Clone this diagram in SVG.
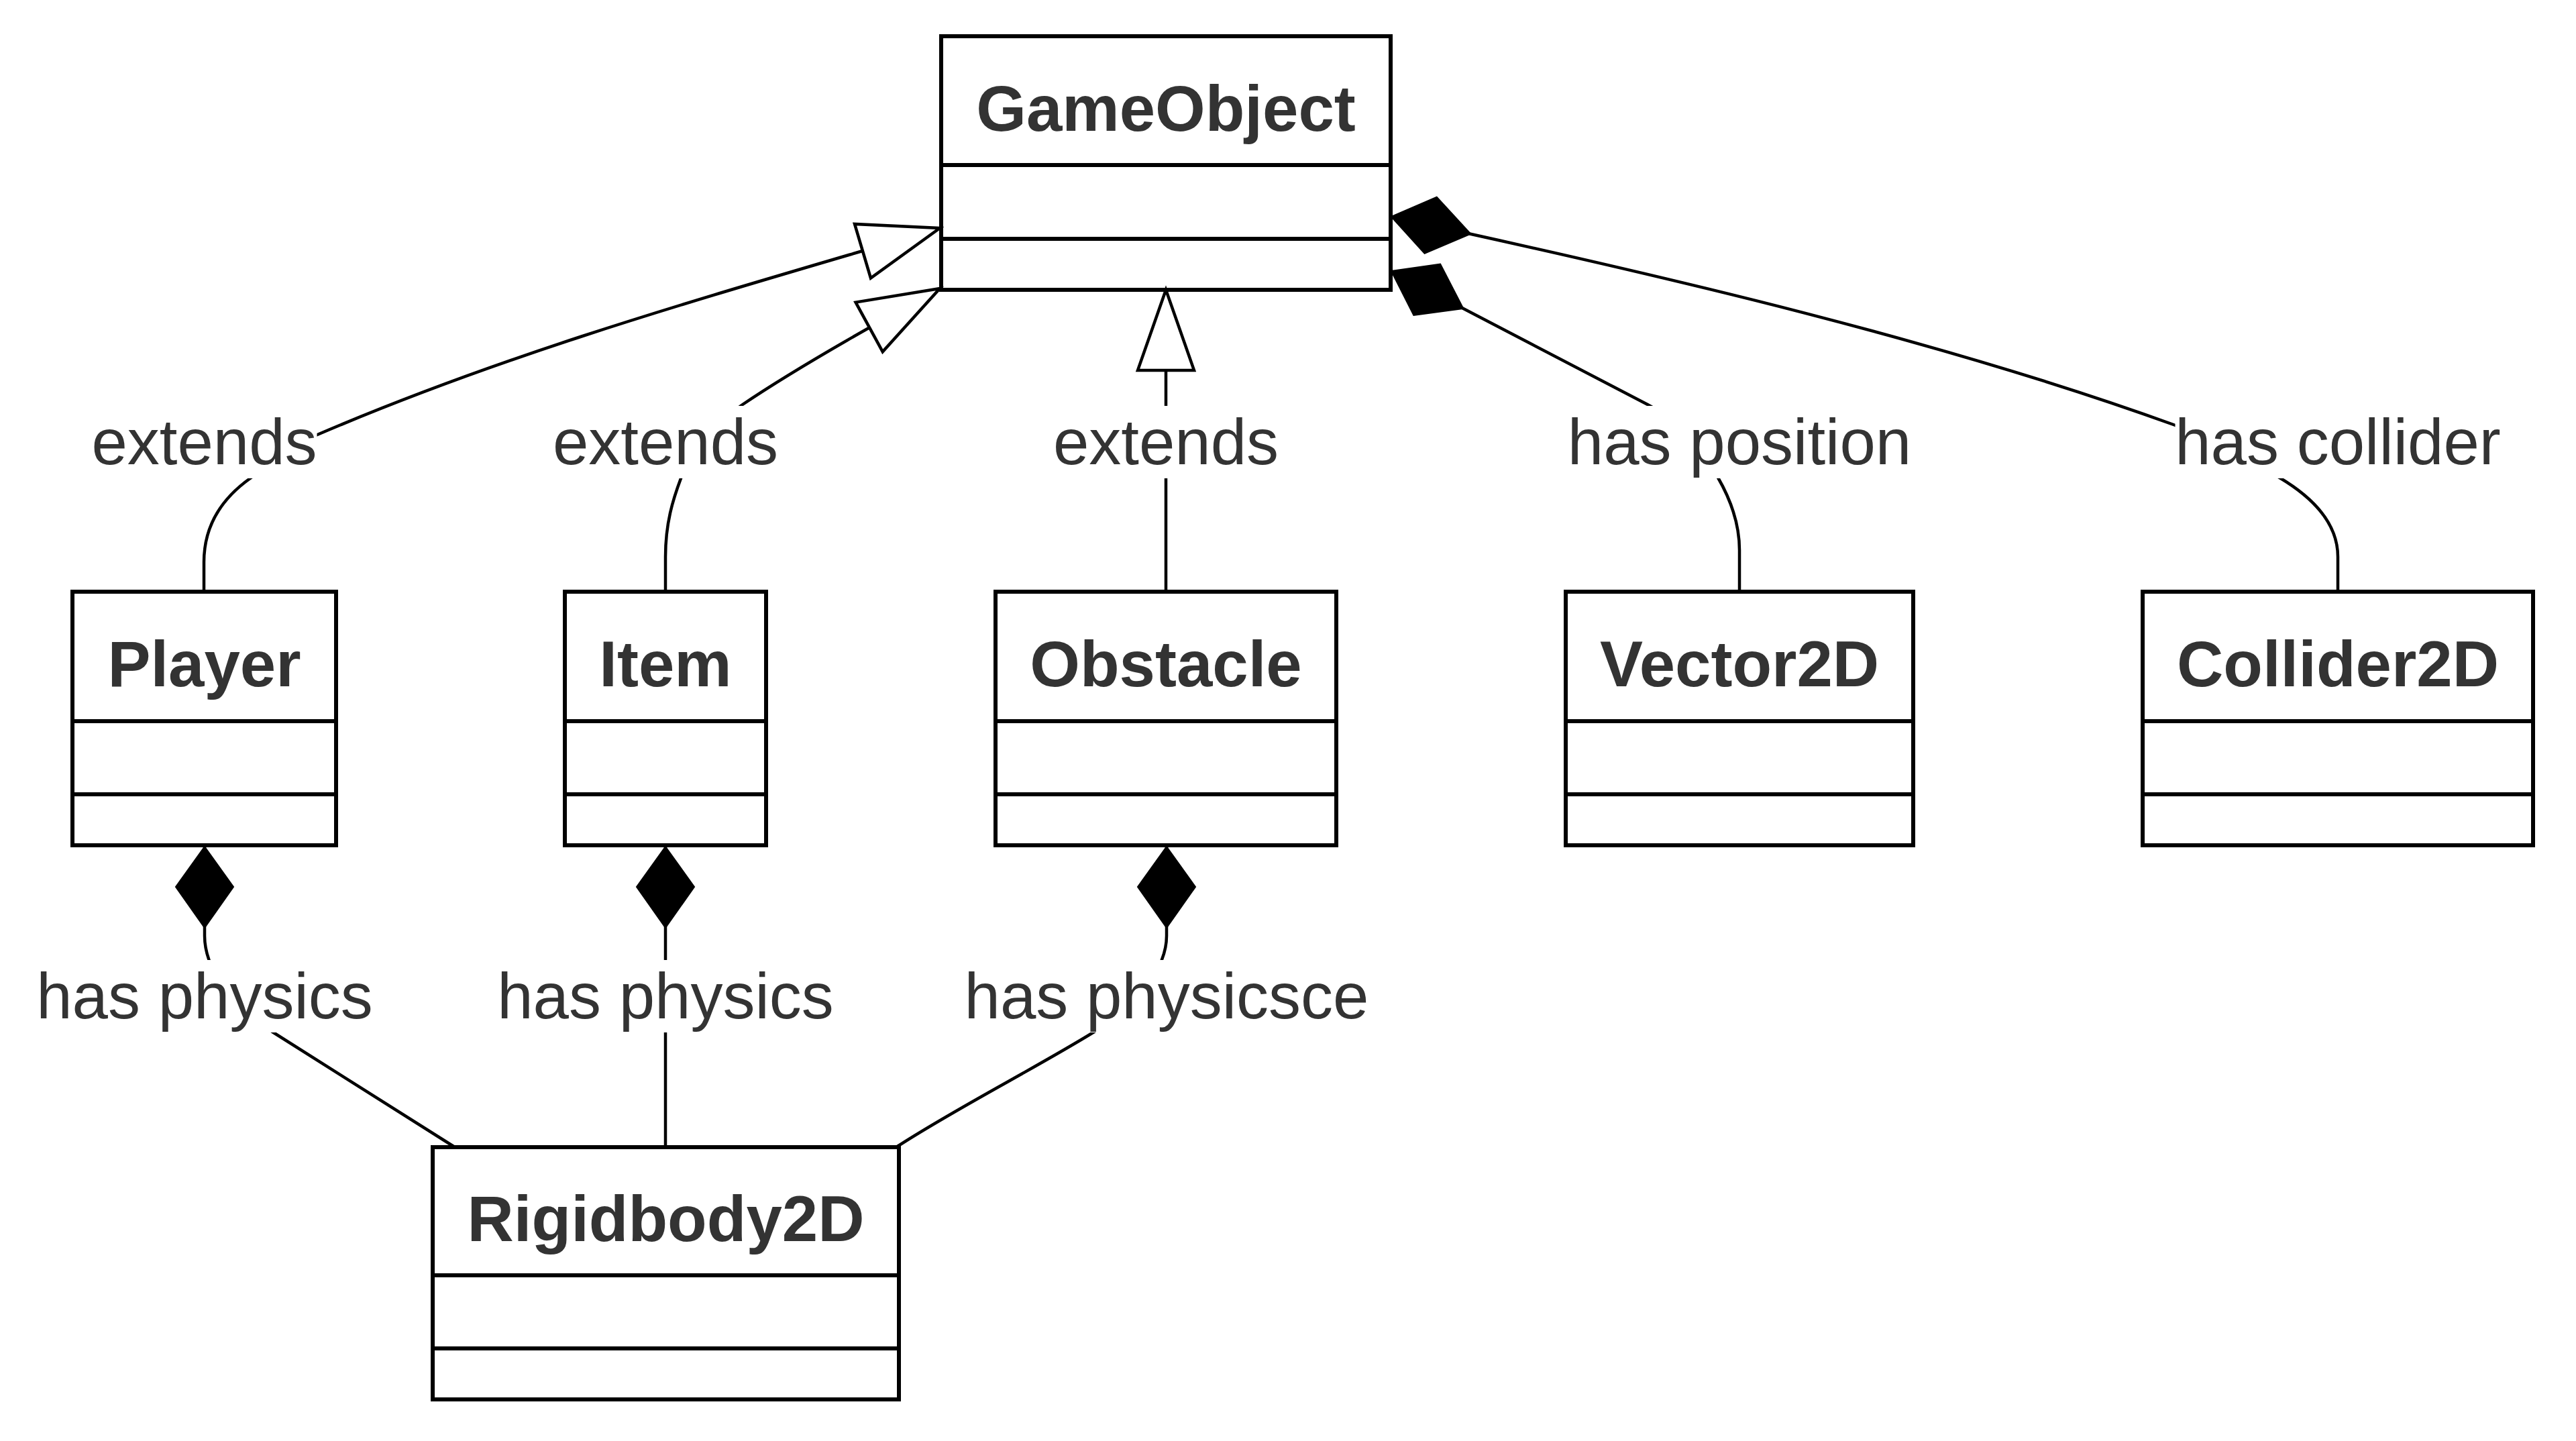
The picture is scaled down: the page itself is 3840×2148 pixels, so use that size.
<svg xmlns="http://www.w3.org/2000/svg" width="3840" height="2148" viewBox="0 0 3840 2148">
<style>
.box{fill:#fff;stroke:#000;stroke-width:6}
.sep{stroke:#000;stroke-width:6}
.title{font-family:"Liberation Sans",Arial,sans-serif;font-size:96px;font-weight:bold;fill:#333;text-anchor:middle}
.edge{fill:none;stroke:#000;stroke-width:4.5}
.lbl{font-family:"Liberation Sans",Arial,sans-serif;font-size:96px;fill:#333;text-anchor:middle}
.lblbg{fill:#fff}
</style>
<defs>
<marker id="ext" markerUnits="userSpaceOnUse" orient="auto" refX="0" refY="0" markerWidth="1" markerHeight="1" overflow="visible">
<path d="M0,0 L-120,-42 L-120,42 Z" fill="#fff" stroke="#000" stroke-width="4.5"/>
</marker>
<marker id="comp" markerUnits="userSpaceOnUse" orient="auto" refX="0" refY="0" markerWidth="1" markerHeight="1" overflow="visible">
<path d="M0,0 L60,-43 L121,0 L60,43 Z" fill="#000" stroke="#000" stroke-width="2"/>
</marker>
</defs>
<rect x="0" y="0" width="3840" height="2148" fill="#fff"/>
<g id="nodes">
<g id="GameObject">
<rect class="box" x="1403" y="54" width="670" height="378"/>
<line class="sep" x1="1403" y1="246" x2="2073" y2="246"/>
<line class="sep" x1="1403" y1="356" x2="2073" y2="356"/>
<text class="title" x="1738" y="195">GameObject</text>
</g>
<g id="Player">
<rect class="box" x="108" y="882" width="393" height="378"/>
<line class="sep" x1="108" y1="1075" x2="501" y2="1075"/>
<line class="sep" x1="108" y1="1184" x2="501" y2="1184"/>
<text class="title" x="304.5" y="1023">Player</text>
</g>
<g id="Item">
<rect class="box" x="842" y="882" width="300" height="378"/>
<line class="sep" x1="842" y1="1075" x2="1142" y2="1075"/>
<line class="sep" x1="842" y1="1184" x2="1142" y2="1184"/>
<text class="title" x="992" y="1023">Item</text>
</g>
<g id="Obstacle">
<rect class="box" x="1484" y="882" width="508" height="378"/>
<line class="sep" x1="1484" y1="1075" x2="1992" y2="1075"/>
<line class="sep" x1="1484" y1="1184" x2="1992" y2="1184"/>
<text class="title" x="1738" y="1023">Obstacle</text>
</g>
<g id="Vector2D">
<rect class="box" x="2334" y="882" width="518" height="378"/>
<line class="sep" x1="2334" y1="1075" x2="2852" y2="1075"/>
<line class="sep" x1="2334" y1="1184" x2="2852" y2="1184"/>
<text class="title" x="2593" y="1023">Vector2D</text>
</g>
<g id="Collider2D">
<rect class="box" x="3194" y="882" width="582" height="378"/>
<line class="sep" x1="3194" y1="1075" x2="3776" y2="1075"/>
<line class="sep" x1="3194" y1="1184" x2="3776" y2="1184"/>
<text class="title" x="3485" y="1023">Collider2D</text>
</g>
<g id="Rigidbody2D">
<rect class="box" x="645" y="1710" width="695" height="376"/>
<line class="sep" x1="645" y1="1901" x2="1340" y2="1901"/>
<line class="sep" x1="645" y1="2010" x2="1340" y2="2010"/>
<text class="title" x="992.5" y="1850">Rigidbody2D</text>
</g>
</g>
<g id="connectors">
<path class="edge" marker-end="url(#ext)" d="M304,882 L304,838 C304,780 335,740 373,713 C411,686 423,669 473,648 C776,518 1085,434 1401,340"/>
<path class="edge" marker-end="url(#ext)" d="M992,882 L992,830 C992,780 1003,745 1015,713 C1032,666 1066,631 1107,603 C1190,547 1313,478 1401,430"/>
<path class="edge" marker-end="url(#ext)" d="M1738,882 L1738,432"/>
<path class="edge" marker-start="url(#comp)" d="M2074,404 L2456,603 C2500,626 2540,676 2561,712 C2580,745 2593,780 2593,820 L2593,882"/>
<path class="edge" marker-start="url(#comp)" d="M2074,323 C2500,415 2900,510 3240,633 C3290,651 3355,687 3398,712 C3440,737 3485,775 3485,830 L3485,882"/>
<path class="edge" marker-start="url(#comp)" d="M305,1262 L305,1395 C305,1440 340,1497 409,1540 L678,1710"/>
<path class="edge" marker-start="url(#comp)" d="M992,1262 L992,1710"/>
<path class="edge" marker-start="url(#comp)" d="M1739,1262 L1739,1395 C1739,1440 1700,1497 1628,1540 C1540,1594 1420,1655 1336,1710"/>
</g>
<g id="edge-labels">
<rect class="lblbg" x="136.5" y="605" width="336" height="108"/>
<text class="lbl" x="304.5" y="692">extends</text>
<rect class="lblbg" x="824" y="605" width="336" height="108"/>
<text class="lbl" x="992" y="692">extends</text>
<rect class="lblbg" x="1570" y="605" width="336" height="108"/>
<text class="lbl" x="1738" y="692">extends</text>
<rect class="lblbg" x="2337" y="605" width="512" height="108"/>
<text class="lbl" x="2593" y="692">has position</text>
<rect class="lblbg" x="3242.5" y="605" width="485" height="108"/>
<text class="lbl" x="3485" y="692">has collider</text>
<rect class="lblbg" x="54.5" y="1431" width="501" height="108"/>
<text class="lbl" x="305" y="1518">has physics</text>
<rect class="lblbg" x="741.5" y="1431" width="501" height="108"/>
<text class="lbl" x="992" y="1518">has physics</text>
<rect class="lblbg" x="1437.5" y="1431" width="603" height="108"/>
<text class="lbl" x="1739" y="1518">has physicsce</text>
</g>
</svg>
